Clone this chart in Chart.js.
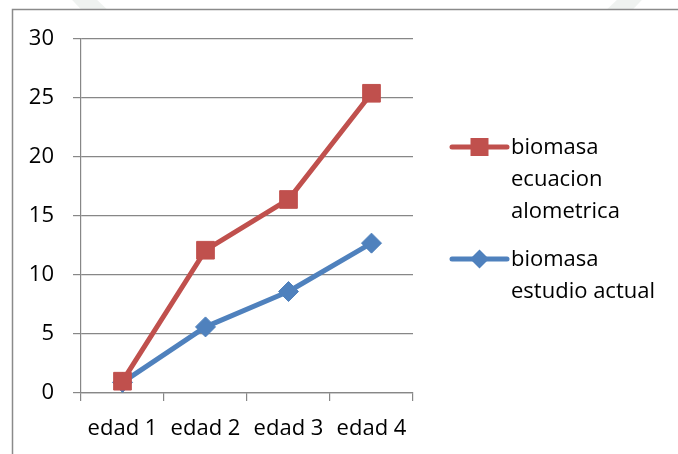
<!DOCTYPE html>
<html>
<head>
<meta charset="utf-8">
<script src="https://cdn.jsdelivr.net/npm/chart.js@4/dist/chart.umd.min.js"></script>
<style>
  html, body { margin: 0; padding: 0; background: #ffffff; }
  #wrap { width: 678px; height: 454px; position: relative; }
</style>
</head>
<body>
<div id="wrap"><canvas id="c" width="678" height="454"></canvas></div>
<script>
const categories = ['edad 1', 'edad 2', 'edad 3', 'edad 4'];
const ecuacionAlometrica = [1.0, 12.1, 16.4, 25.4];
const estudioActual = [0.9, 5.6, 8.6, 12.7];
const seriesNames = ['biomasa ecuacion alometrica', 'biomasa estudio actual'];
const legendLines = [['biomasa', 'ecuacion', 'alometrica'], ['biomasa', 'estudio actual']];
const yTicks = [0, 5, 10, 15, 20, 25, 30];

const FONT = '"Open Sans"';
const FONT_SIZE = 22;
const RED = '#C0504D';
const BLUE = '#4F81BD';
const GRID = '#878787';

const backgroundPlugin = {
  id: 'bg',
  beforeDraw(chart) {
    const ctx = chart.ctx;
    ctx.save();
    ctx.fillStyle = '#ffffff';
    ctx.fillRect(0, 0, chart.width, chart.height);
    // faint watermark ring behind the chart box
    ctx.strokeStyle = 'rgba(180,195,185,0.22)';
    ctx.lineWidth = 18;
    ctx.beginPath();
    ctx.arc(357, -262, 378, 0, Math.PI * 2);
    ctx.stroke();
    // chart box (white) with left/top border
    ctx.fillStyle = '#ffffff';
    ctx.fillRect(12, 10, chart.width - 12, chart.height - 10);
    ctx.strokeStyle = '#8a8a8a';
    ctx.lineWidth = 1.5;
    ctx.beginPath();
    ctx.moveTo(12.5, chart.height);
    ctx.lineTo(12.5, 9.5);
    ctx.lineTo(chart.width, 9.5);
    ctx.stroke();
    ctx.restore();
  }
};

const legendPlugin = {
  id: 'customLegend',
  afterDraw(chart) {
    const ctx = chart.ctx;
    const area = chart.chartArea;
    const x0 = area.right + 39;
    const x1 = x0 + 55;
    const tx = x1 + 4;
    const ys = [147, 259];
    ctx.save();
    chart.data.datasets.forEach((ds, i) => {
      const y = ys[i];
      ctx.strokeStyle = ds.borderColor;
      ctx.lineWidth = 5;
      ctx.lineCap = 'round';
      ctx.beginPath();
      ctx.moveTo(x0, y);
      ctx.lineTo(x1, y);
      ctx.stroke();
      const cx = (x0 + x1) / 2;
      ctx.fillStyle = ds.pointBackgroundColor;
      ctx.beginPath();
      if (ds.pointStyle === 'rect') {
        ctx.rect(cx - 9, y - 9, 18, 18);
      } else {
        ctx.moveTo(cx, y - 9.5);
        ctx.lineTo(cx + 9.5, y);
        ctx.lineTo(cx, y + 9.5);
        ctx.lineTo(cx - 9.5, y);
        ctx.closePath();
      }
      ctx.fill();
      ctx.fillStyle = '#000000';
      ctx.font = FONT_SIZE + 'px ' + FONT;
      ctx.textAlign = 'left';
      ctx.textBaseline = 'alphabetic';
      legendLines[i].forEach((line, k) => {
        ctx.fillText(line, tx, y + 7 + k * 32);
      });
    });
    ctx.restore();
  }
};

new Chart(document.getElementById('c'), {
  type: 'line',
  data: {
    labels: categories,
    datasets: [
      {
        label: seriesNames[0],
        data: ecuacionAlometrica,
        borderColor: RED,
        backgroundColor: RED,
        pointBackgroundColor: RED,
        pointBorderColor: RED,
        pointStyle: 'rect',
        pointRadius: 12.5,
        pointBorderWidth: 1,
        borderWidth: 5,
        borderCapStyle: 'round',
        borderJoinStyle: 'round',
        tension: 0,
        fill: false
      },
      {
        label: seriesNames[1],
        data: estudioActual,
        borderColor: BLUE,
        backgroundColor: BLUE,
        pointBackgroundColor: BLUE,
        pointBorderColor: BLUE,
        pointStyle: 'rectRot',
        pointRadius: 10,
        pointBorderWidth: 1,
        borderWidth: 5,
        borderCapStyle: 'round',
        borderJoinStyle: 'round',
        tension: 0,
        fill: false
      }
    ]
  },
  options: {
    responsive: false,
    animation: false,
    events: [],
    layout: { padding: { left: 0, top: 39, right: 265, bottom: 0 } },
    plugins: {
      legend: { display: false },
      tooltip: { enabled: false },
      title: { display: false }
    },
    scales: {
      x: {
        type: 'category',
        offset: true,
        afterFit(s) { s.height = 61; },
        grid: {
          offset: true,
          drawOnChartArea: false,
          drawTicks: true,
          tickLength: 8,
          color: GRID,
          lineWidth: 1.2
        },
        border: { display: true, color: GRID, width: 1.2 },
        ticks: {
          color: '#000000',
          font: { family: FONT, size: FONT_SIZE },
          padding: 15,
          maxRotation: 0,
          autoSkip: false
        }
      },
      y: {
        min: 0,
        max: 30,
        afterFit(s) { s.width = 81; },
        afterBuildTicks(s) { s.ticks = yTicks.map(v => ({ value: v })); },
        grid: {
          color: GRID,
          lineWidth: 1.2,
          drawTicks: true,
          tickLength: 8
        },
        border: { display: true, color: GRID, width: 1.2 },
        ticks: {
          color: '#000000',
          font: { family: FONT, size: FONT_SIZE },
          padding: 19
        }
      }
    }
  },
  plugins: [backgroundPlugin, legendPlugin]
});
</script>
</body>
</html>
